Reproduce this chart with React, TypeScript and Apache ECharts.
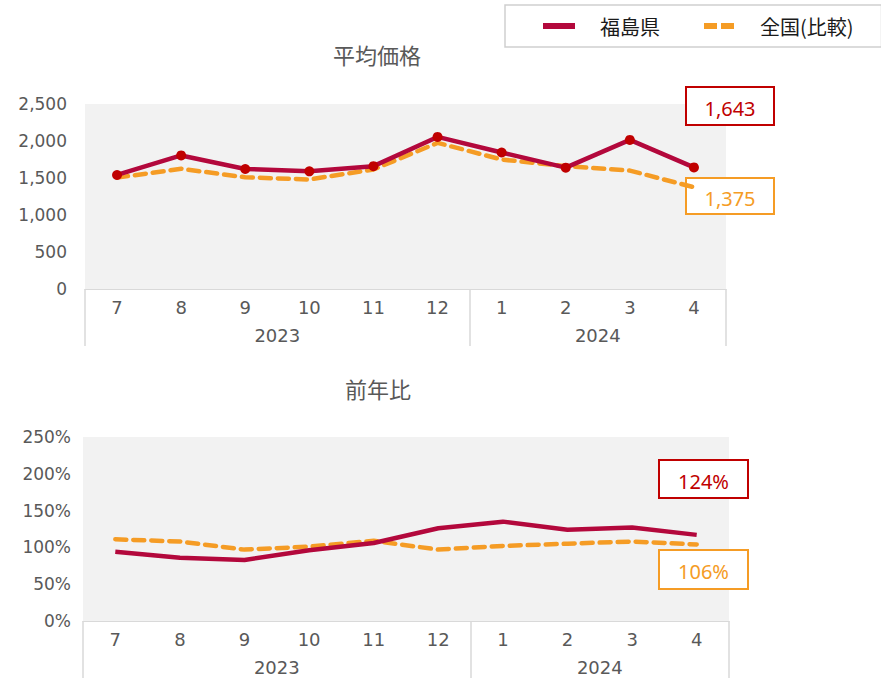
import React, { useEffect, useRef } from 'react';
import * as echarts from 'echarts';

const MONTHS = ['7', '8', '9', '10', '11', '12', '1', '2', '3', '4'];
const YEARS = ['2023', '2024'];
const YEAR_SPANS = [6, 4];
const SERIES_NAMES = ['福島県', '全国(比較)'];
const PRICE_FUKUSHIMA = [1541, 1805, 1622, 1590, 1660, 2055, 1845, 1640, 2015, 1643];
const PRICE_NATIONAL = [1505, 1625, 1510, 1480, 1615, 1975, 1750, 1660, 1600, 1375];
const YOY_FUKUSHIMA = [94, 86, 83, 96, 106, 126, 135, 124, 127, 117];
const YOY_NATIONAL = [111, 108, 97, 101, 109, 97, 102, 105, 108, 104];
const PRICE_TICKS = [0, 500, 1000, 1500, 2000, 2500];
const YOY_TICKS = [0, 50, 100, 150, 200, 250];
const TITLES = ['平均価格', '前年比'];
const YOY_CALLOUTS = ['124%', '106%'];

const RED_LINE = '#B3083C';
const RED_MARK = '#C00000';
const ORANGE = '#F59C25';
const GRAY_TEXT = '#595959';
const AXIS_GRAY = '#D9D9D9';
const NUM_FONT = "'DejaVu Sans', 'Noto Sans CJK JP', sans-serif";
const CJK_FONT = "'Noto Sans CJK JP', sans-serif";

const yearCenters = (() => {
  const res: number[] = [];
  let acc = 0;
  YEAR_SPANS.forEach((s) => {
    res.push(acc + s / 2);
    acc += s;
  });
  return res;
})();
const yearBoundaries = (() => {
  const res: number[] = [0];
  let acc = 0;
  YEAR_SPANS.forEach((s) => {
    acc += s;
    res.push(acc);
  });
  return res;
})();

function monthAxis(gridIndex: number) {
  return {
    type: 'category',
    gridIndex,
    data: MONTHS,
    boundaryGap: true,
    axisLine: { show: true, lineStyle: { color: AXIS_GRAY, width: 1 } },
    axisTick: {
      show: true,
      length: 57,
      interval: (i: number) => yearBoundaries.includes(i),
      lineStyle: { color: AXIS_GRAY, width: 1.5 },
    },
    axisLabel: { color: GRAY_TEXT, fontSize: 18, fontFamily: NUM_FONT, margin: 9, interval: 0 },
    splitLine: { show: false },
  };
}

function yearAxis(gridIndex: number) {
  return {
    type: 'value',
    gridIndex,
    position: 'bottom',
    offset: 28,
    min: 0,
    max: MONTHS.length,
    interval: 1,
    axisLine: { show: false },
    axisTick: { show: false },
    splitLine: { show: false },
    axisLabel: {
      color: GRAY_TEXT,
      fontSize: 18,
      fontFamily: NUM_FONT,
      margin: 9,
      showMinLabel: true,
      showMaxLabel: true,
      formatter: (v: number) => {
        const idx = yearCenters.indexOf(v);
        return idx >= 0 ? YEARS[idx] : '';
      },
    },
  };
}

function calloutBox(x: number, y: number, w: number, h: number, color: string, text: string) {
  return {
    type: 'group',
    z: 100,
    children: [
      {
        type: 'rect',
        shape: { x, y, width: w, height: h },
        style: { fill: '#FFFFFF', stroke: color, lineWidth: 2 },
      },
      {
        type: 'text',
        x: x + w / 2,
        y: y + h / 2 + 2,
        style: {
          text,
          fill: color,
          font: "20px 'Noto Sans', 'Noto Sans CJK JP', sans-serif",
          align: 'center',
          verticalAlign: 'middle',
        },
      },
    ],
  };
}

const fmt = (v: number) => v.toLocaleString('en-US');

export default function App() {
  const ref = useRef<HTMLDivElement>(null);
  useEffect(() => {
    if (!ref.current) return;
    const chart = echarts.init(ref.current, undefined, { renderer: 'svg' });
    const orangeIcon = 'path://M0,0H13V6H0Z M17,0H30V6H17Z';
    chart.setOption({
      animation: false,
      backgroundColor: '#FFFFFF',
      title: [
        {
          text: TITLES[0],
          left: 377,
          top: 43,
          textAlign: 'center',
          padding: 0,
          textStyle: { color: GRAY_TEXT, fontSize: 22, fontWeight: 'normal', fontFamily: CJK_FONT },
        },
        {
          text: TITLES[1],
          left: 378,
          top: 377,
          textAlign: 'center',
          padding: 0,
          textStyle: { color: GRAY_TEXT, fontSize: 22, fontWeight: 'normal', fontFamily: CJK_FONT },
        },
      ],
      legend: {
        left: 505,
        top: 5,
        padding: [11, 28, 11, 38],
        borderColor: '#CFCFCF',
        borderWidth: 1.5,
        itemGap: 44,
        itemWidth: 32,
        itemHeight: 6,
        textStyle: { color: '#1A1A1A', fontSize: 20, fontFamily: CJK_FONT, padding: [0, 0, 0, 20] },
        data: [
          { name: SERIES_NAMES[0], icon: 'rect', itemStyle: { color: RED_LINE, borderWidth: 0 } },
          { name: SERIES_NAMES[1], icon: orangeIcon, itemStyle: { color: ORANGE, borderWidth: 0 } },
        ],
      },
      grid: [
        { left: 85, right: 155, top: 104, height: 185, show: true, backgroundColor: '#F2F2F2', borderWidth: 0 },
        { left: 83, right: 152, top: 437, height: 184, show: true, backgroundColor: '#F2F2F2', borderWidth: 0 },
      ],
      xAxis: [monthAxis(0), yearAxis(0), monthAxis(1), yearAxis(1)],
      yAxis: [
        {
          type: 'value',
          gridIndex: 0,
          min: PRICE_TICKS[0],
          max: PRICE_TICKS[PRICE_TICKS.length - 1],
          interval: PRICE_TICKS[1] - PRICE_TICKS[0],
          axisLine: { show: false },
          axisTick: { show: false },
          splitLine: { show: false },
          axisLabel: { color: GRAY_TEXT, fontSize: 17, fontFamily: NUM_FONT, margin: 18, formatter: (v: number) => fmt(v) },
        },
        {
          type: 'value',
          gridIndex: 1,
          min: YOY_TICKS[0],
          max: YOY_TICKS[YOY_TICKS.length - 1],
          interval: YOY_TICKS[1] - YOY_TICKS[0],
          axisLine: { show: false },
          axisTick: { show: false },
          splitLine: { show: false },
          axisLabel: { color: GRAY_TEXT, fontSize: 17, fontFamily: NUM_FONT, margin: 12, formatter: '{value}%' },
        },
      ],
      series: [
        {
          name: SERIES_NAMES[1],
          type: 'line',
          xAxisIndex: 0,
          yAxisIndex: 0,
          data: PRICE_NATIONAL,
          symbol: 'none',
          color: ORANGE,
          lineStyle: { color: ORANGE, width: 4.5, type: [11, 7], cap: 'round' },
          z: 2,
        },
        {
          name: SERIES_NAMES[0],
          type: 'line',
          xAxisIndex: 0,
          yAxisIndex: 0,
          data: PRICE_FUKUSHIMA,
          symbol: 'circle',
          symbolSize: 10,
          color: RED_LINE,
          itemStyle: { color: RED_MARK },
          lineStyle: { color: RED_LINE, width: 4.5 },
          z: 3,
        },
        {
          name: SERIES_NAMES[1],
          type: 'line',
          xAxisIndex: 2,
          yAxisIndex: 1,
          data: YOY_NATIONAL,
          symbol: 'none',
          color: ORANGE,
          lineStyle: { color: ORANGE, width: 4.5, type: [11, 7], cap: 'round' },
          z: 2,
        },
        {
          name: SERIES_NAMES[0],
          type: 'line',
          xAxisIndex: 2,
          yAxisIndex: 1,
          data: YOY_FUKUSHIMA,
          symbol: 'none',
          color: RED_LINE,
          lineStyle: { color: RED_LINE, width: 4.5 },
          z: 3,
        },
      ],
      graphic: [
        calloutBox(686, 87, 88, 38, RED_MARK, fmt(PRICE_FUKUSHIMA[PRICE_FUKUSHIMA.length - 1])),
        calloutBox(686, 178, 88, 36, ORANGE, fmt(PRICE_NATIONAL[PRICE_NATIONAL.length - 1])),
        calloutBox(659, 460, 89, 38, RED_MARK, YOY_CALLOUTS[0]),
        calloutBox(659, 550, 89, 39, ORANGE, YOY_CALLOUTS[1]),
      ],
    });
    return () => chart.dispose();
  }, []);
  return (
    <div
      ref={ref}
      style={{ position: 'absolute', left: 0, top: 0, width: 881, height: 678 }}
    />
  );
}
